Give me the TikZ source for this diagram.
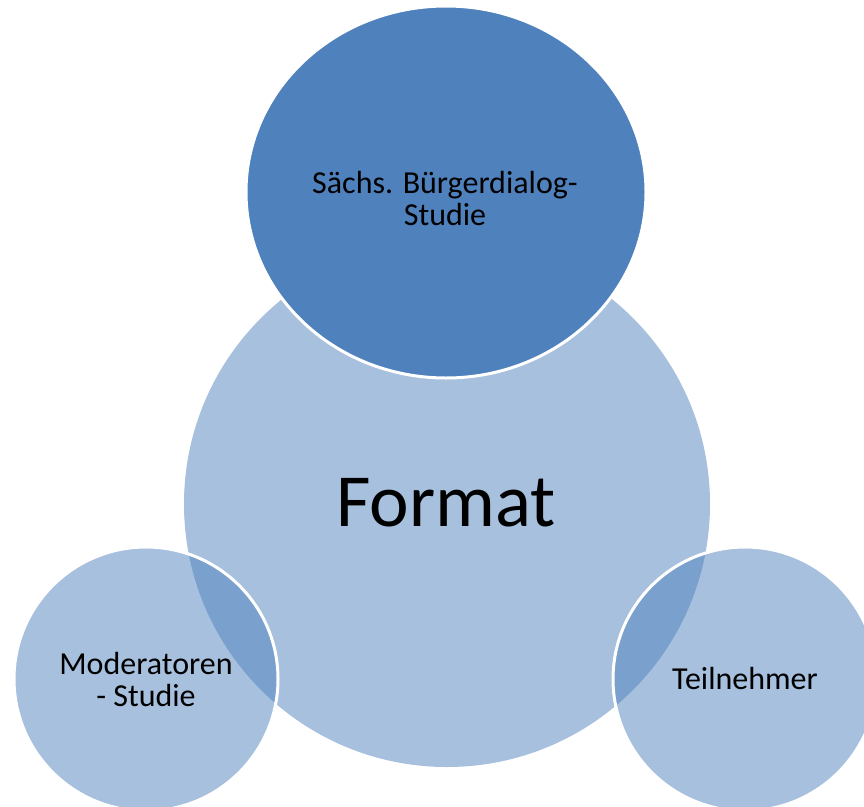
\documentclass[tikz,border=0pt]{standalone}
\usepackage{fontspec}
\setmainfont{Carlito}
\usetikzlibrary{shapes.geometric}
\definecolor{accent}{HTML}{4F81BD}
\tikzset{
  bubble/.style={circle, fill=accent, fill opacity=0.5, text opacity=1, draw=white, line width=3pt, inner sep=0pt},
  topbubble/.style={ellipse, fill=accent, draw=white, line width=3pt, inner sep=0pt},
  hub/.style={circle, fill=accent, fill opacity=0.5, inner sep=0pt},
  lbl/.style={align=center, inner sep=0pt, font=\fontsize{32}{32}\selectfont},
  biglbl/.style={inner sep=0pt, font=\fontsize{75}{80}\selectfont}
}
\begin{document}
\begin{tikzpicture}[x=1pt,y=-1pt]
\useasboundingbox (0,0) rectangle (864,806);
\node[hub, minimum size=526pt] (format) at (447,504) {};
\node[topbubble, minimum width=400pt, minimum height=372pt] (saechs) at (446,192) {};
\node[bubble, minimum size=264pt] (moder) at (146,679) {};
\node[bubble, minimum size=264pt] (teil) at (745,679) {};
\node[biglbl] (formattext) at (446,503) {Format};
\node[lbl] (saechstext) at (445,199) {Sächs. Bürgerdialog-\\Studie};
\node[lbl] (modertext) at (146,679) {Moderatoren\\- Studie};
\node[lbl] (teiltext) at (745,678) {Teilnehmer};
\end{tikzpicture}
\end{document}
